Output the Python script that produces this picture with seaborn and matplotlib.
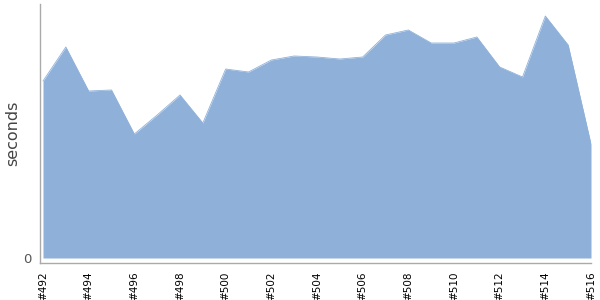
import matplotlib
matplotlib.use("Agg")
import matplotlib.pyplot as plt
import seaborn as sns
import pandas as pd

builds = list(range(492, 517))
seconds = [177, 211, 167, 168, 124, 143, 163, 135, 189, 186, 198, 202, 201,
           199, 201, 223, 228, 215, 215, 221, 191, 181, 242, 213, 114]
tick_labels = [f"#{b}" if b % 2 == 0 else "" for b in builds]

sns.set_style("white")
plt.rcParams['font.family'] = ['DejaVu Sans']

df = pd.DataFrame({"build": builds, "seconds": seconds})

fig = plt.figure(figsize=(6, 3), dpi=100)
ax = fig.add_axes([40/600, 37/300, 551/600, 259/300])
fill_color = "#8fb1d9"
ax.fill_between(df["build"], 0, df["seconds"], color=fill_color, linewidth=0)
sns.lineplot(data=df, x="build", y="seconds", ax=ax, color=fill_color, linewidth=0.6)

ax.set_xlim(492 - 3/22.83, 516)
ax.set_ylim(-5, 254)
ax.set_xticks(builds)
ax.set_xticklabels(tick_labels, rotation=90, fontsize=7.5, color="#000000")
ax.set_yticks([0])
ax.set_yticklabels(["0"], fontsize=9.5, color="#555555")
ax.set_xlabel("")
ax.set_ylabel("seconds", fontsize=11.5, color="#444444", labelpad=2)

for s in ["top", "right"]:
    ax.spines[s].set_visible(False)
for s in ["left", "bottom"]:
    ax.spines[s].set_color("#aaaaaa")
    ax.spines[s].set_linewidth(1)
ax.tick_params(axis="x", length=3, color="#aaaaaa", width=1, pad=3)
ax.tick_params(axis="y", length=3, color="#aaaaaa", width=1, pad=3)

fig.savefig("out.png", dpi=100)
